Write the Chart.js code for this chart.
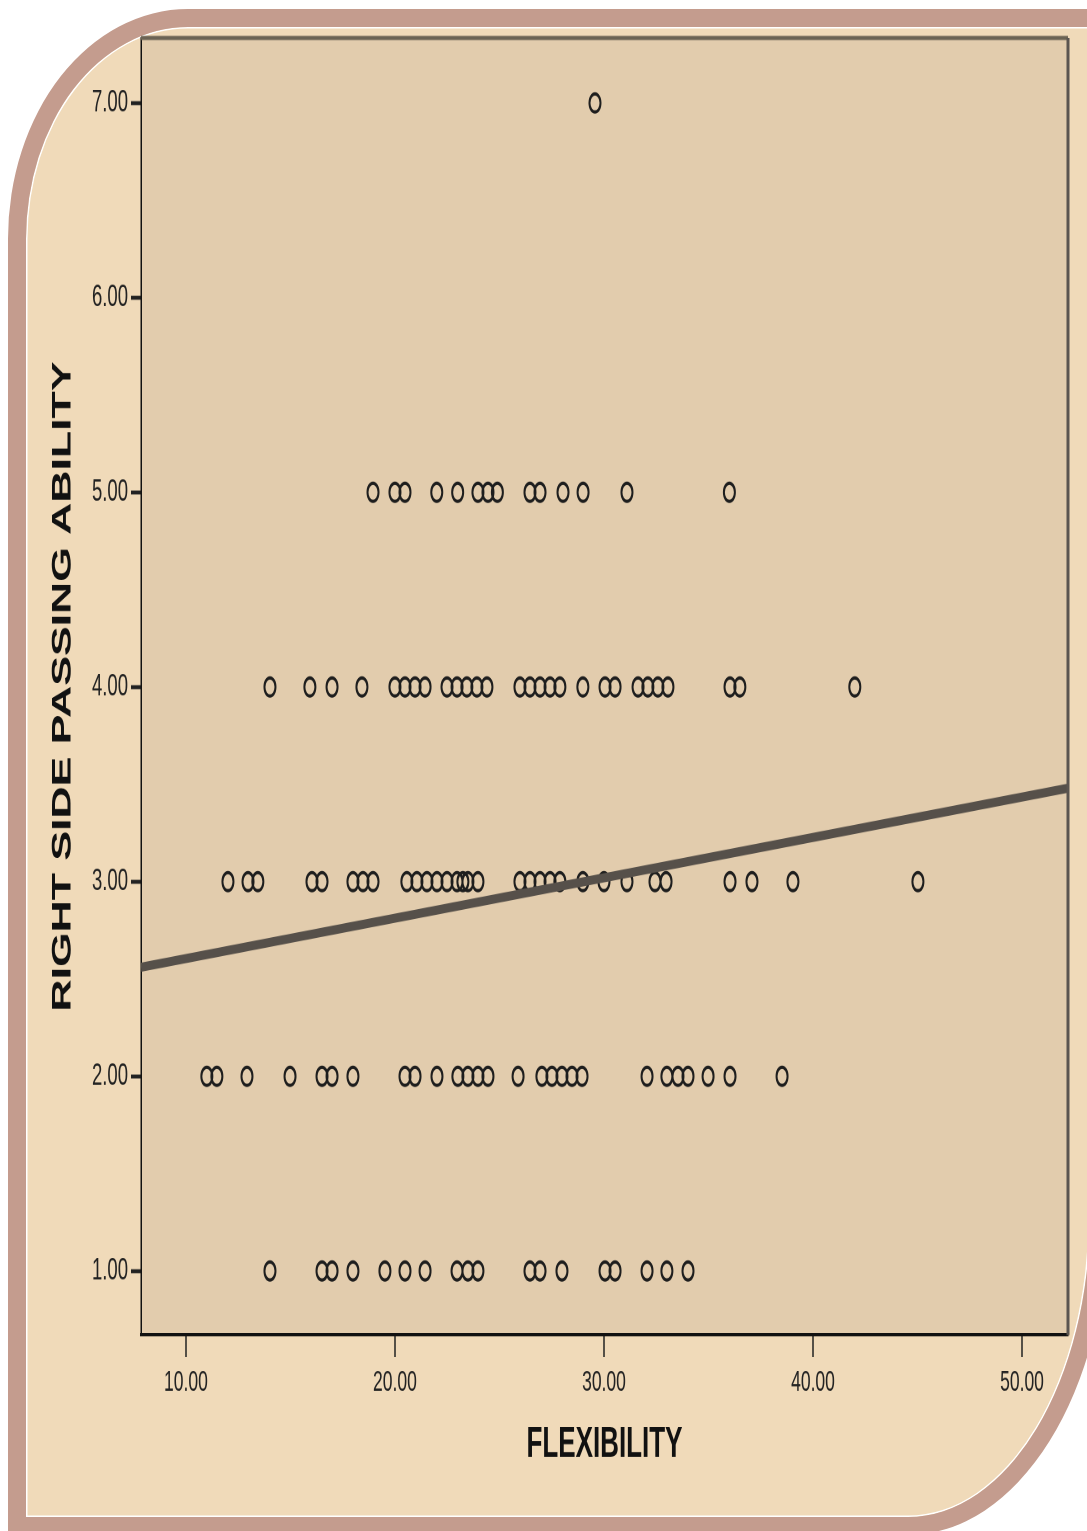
<!DOCTYPE html>
<html>
<head>
<meta charset="utf-8">
<script src="https://cdn.jsdelivr.net/npm/chart.js@4/dist/chart.umd.min.js"></script>
<style>
  html, body { margin: 0; padding: 0; background: #fff; overflow: hidden; width: 1087px; height: 1531px; }
  .frame {
    position: absolute; left: 8px; top: 9px; width: 1100px; height: 1526px;
    box-sizing: border-box; border: 18px solid #c49c8e;
    border-top-left-radius: 180px 230px; border-bottom-right-radius: 200px 320px;
    background: #f0dab9; box-shadow: inset 0 0 0 1.5px #fff;
  }
  /* the original picture is stretched tall, so the chart is drawn flat and scaled up */
  .wrap {
    position: absolute; left: 0; top: 0; width: 1087px; height: 928px;
    transform: scaleY(1.6498); transform-origin: 0 0;
  }
</style>
</head>
<body>
<div class="frame"></div>
<div class="wrap"><canvas id="scatter"></canvas></div>
<script>
// flexibility scores, grouped by the passing ability level they sit at
const passLevels = [7, 5, 4, 3, 2, 1];
const flexAt7 = [29.57];
const flexAt5 = [18.95, 20.0, 20.48, 22.0, 23.0, 23.97, 24.45, 24.9, 26.46, 26.94, 28.04, 29.0, 31.1, 36.0];
const flexAt4 = [14.02, 15.93, 16.99, 18.42, 20.0, 20.48, 20.96, 21.44, 22.49, 22.97, 23.44, 23.92, 24.4,
  25.98, 26.46, 26.94, 27.42, 27.89, 28.99, 30.05, 30.53, 31.63, 32.1, 32.58, 33.06, 36.03, 36.5, 42.0];
const flexAt3 = [12.01, 12.97, 13.44, 16.03, 16.51, 17.99, 18.47, 18.95, 20.57, 21.05, 21.53, 22.01, 22.49,
  22.97, 23.25, 23.49, 23.97, 25.98, 26.46, 26.94, 27.42, 27.89, 28.99, 30.0, 31.1, 32.44, 32.97, 36.03,
  37.08, 39.04, 45.02];
const flexAt2 = [11.0, 11.48, 12.92, 14.98, 16.51, 16.99, 17.99, 20.48, 20.96, 22.01, 23.01, 23.49, 23.97,
  24.45, 25.89, 27.03, 27.51, 27.99, 28.47, 28.95, 32.06, 33.01, 33.54, 34.02, 34.98, 36.03, 38.52];
const flexAt1 = [14.02, 16.51, 16.99, 17.99, 19.52, 20.48, 21.44, 22.97, 23.49, 23.97, 26.46, 26.94, 27.99,
  30.05, 30.53, 32.06, 33.01, 34.02];
const flexGroups = [flexAt7, flexAt5, flexAt4, flexAt3, flexAt2, flexAt1];

// fit line, read at the two plot edges
const fitX = [7.85, 52.2];
const fitY = [2.56, 3.48];

const xTicks = [10, 20, 30, 40, 50];
const yTicks = [1, 2, 3, 4, 5, 6, 7];

const points = [];
flexGroups.forEach((grp, i) => {
  grp.forEach(x => points.push({ x: x, y: passLevels[i] }));
});
const fitPoints = fitX.map((x, i) => ({ x: x, y: fitY[i] }));

const plotFrame = {
  id: "plotFrame",
  beforeDraw(chart) {
    const { ctx, chartArea: a } = chart;
    ctx.save();
    ctx.fillStyle = "#e2ccad";
    ctx.fillRect(a.left, a.top, a.right - a.left, a.bottom - a.top);
    ctx.restore();
  },
  afterDraw(chart) {
    const { ctx, chartArea: a } = chart;
    ctx.save();
    ctx.strokeStyle = "#6b6354";
    ctx.lineWidth = 2.4;
    ctx.beginPath();
    ctx.moveTo(a.left, a.top);
    ctx.lineTo(a.right, a.top);
    ctx.stroke();
    ctx.strokeStyle = "#5b5550";
    ctx.lineWidth = 3;
    ctx.beginPath();
    ctx.moveTo(a.right, a.top);
    ctx.lineTo(a.right, a.bottom);
    ctx.stroke();
    ctx.restore();
  }
};

new Chart(document.getElementById("scatter"), {
  type: "scatter",
  data: {
    datasets: [
      {
        type: "line",
        data: fitPoints,
        borderColor: "#56504a",
        borderWidth: 5.5,
        pointRadius: 0,
        fill: false,
      },
      {
        data: points,
        pointRadius: 5.5,
        pointBorderWidth: 2,
        pointBorderColor: "#1e1e1e",
        pointBackgroundColor: "rgba(0,0,0,0)",
      }
    ]
  },
  options: {
    responsive: true,
    maintainAspectRatio: false,
    devicePixelRatio: 2,
    animation: false,
    layout: { padding: { left: 0, top: 23, right: 19, bottom: 0 } },
    plugins: { legend: { display: false }, tooltip: { enabled: false } },
    scales: {
      x: {
        type: "linear",
        min: 7.85,
        max: 52.2,
        afterBuildTicks: s => { s.ticks = xTicks.map(v => ({ value: v })); },
        afterFit: s => { s.height = 118.8; },
        grid: { drawOnChartArea: false, drawTicks: true, tickLength: 13.3, tickWidth: 1.5, tickColor: "#222" },
        border: { color: "#111", width: 2 },
        ticks: {
          padding: 5,
          color: "#222",
          font: { family: "Liberation Sans", size: 17.5 },
          callback: v => Number(v).toFixed(2),
        },
        title: {
          display: true,
          text: "FLEXIBILITY",
          color: "#111",
          font: { family: "Liberation Sans", size: 26, weight: "bold" },
          padding: { top: 0, bottom: 36.6 },
        },
      },
      y: {
        type: "linear",
        min: 0.671,
        max: 7.334,
        afterBuildTicks: s => { s.ticks = yTicks.map(v => ({ value: v })); },
        afterFit: s => { s.width = 141; },
        grid: { drawOnChartArea: false, drawTicks: true, tickLength: 10, tickWidth: 2.4, tickColor: "#222" },
        border: { color: "#111", width: 1.5 },
        ticks: {
          padding: 3,
          color: "#222",
          font: { family: "Liberation Sans", size: 18.5 },
          callback: v => Number(v).toFixed(2),
        },
        title: {
          display: true,
          text: "RIGHT SIDE PASSING ABILITY",
          color: "#111",
          font: { family: "Liberation Sans", size: 27, weight: "bold" },
          padding: { top: 46.8, bottom: 0 },
        },
      },
    },
  },
  plugins: [plotFrame],
});
</script>
</body>
</html>
